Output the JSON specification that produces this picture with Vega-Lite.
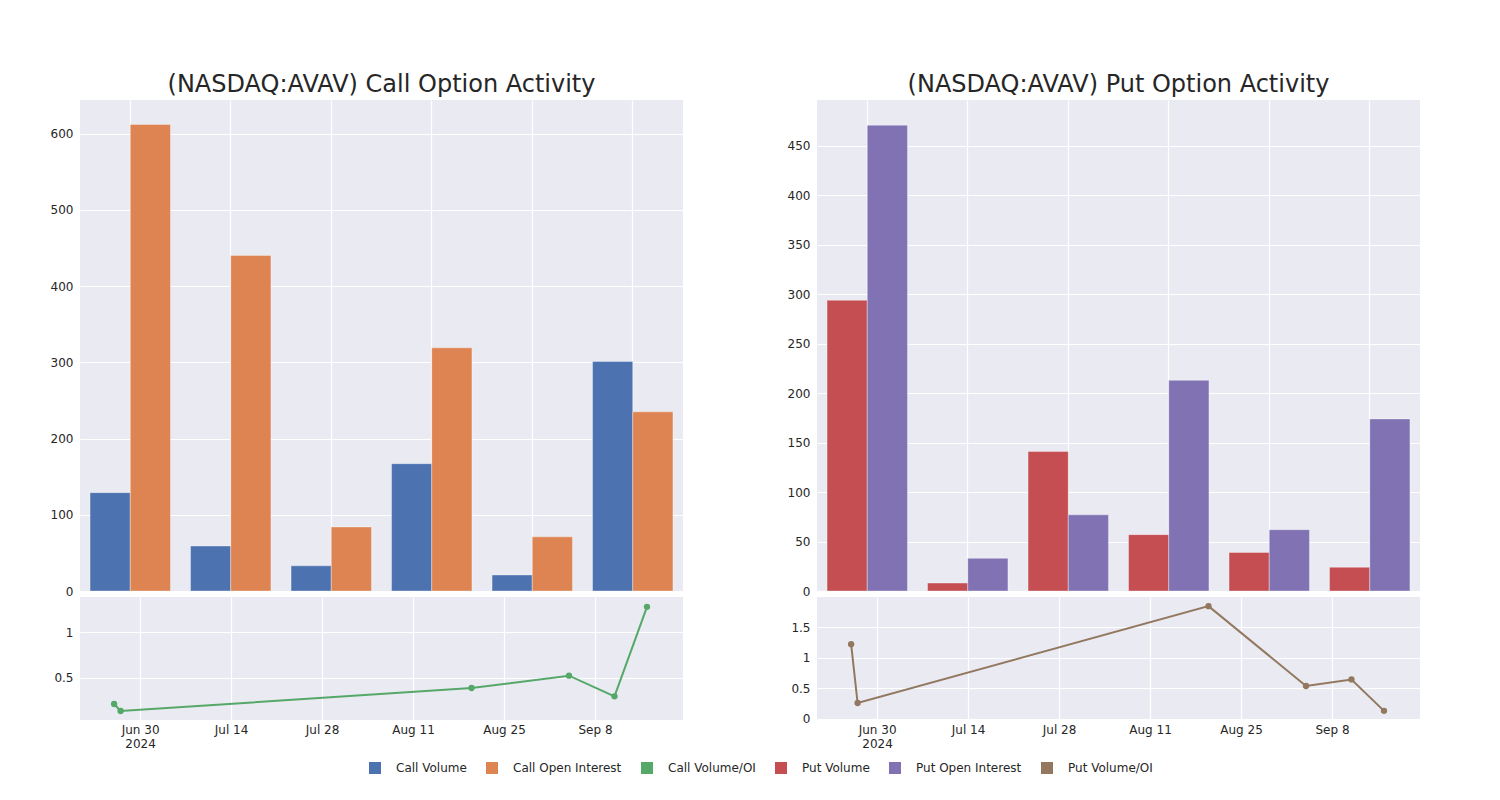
{
  "$schema": "https://vega.github.io/schema/vega-lite/v6.json",
  "background": "white",
  "padding": {"left": 50, "top": 73, "right": 5, "bottom": 5},
  "config": {
    "font": "DejaVu Sans",
    "view": {"fill": "#eaeaf2", "stroke": null},
    "axis": {"labelFont": "DejaVu Sans", "labelFontSize": 12, "labelColor": "#262626", "domain": false, "ticks": false, "gridColor": "white", "gridWidth": 1.2, "labelPadding": 7},
    "title": {"font": "DejaVu Sans", "fontSize": 24, "fontWeight": "normal", "color": "#262626", "frame": "group", "offset": 3},
    "legend": {"orient": "none", "legendX": 289, "legendY": 662, "direction": "horizontal", "title": null, "padding": 0, "symbolType": "square", "symbolSize": 144, "symbolOpacity": 1, "symbolStrokeWidth": 0, "labelFontSize": 12, "labelFont": "DejaVu Sans", "labelColor": "#262626", "labelOffset": 15, "columnPadding": 19}
  },
  "datasets": {
    "callBars": [
      {"date": "2024-06-26", "series": "Call Volume", "value": 129},
      {"date": "2024-06-26", "series": "Call Open Interest", "value": 612},
      {"date": "2024-06-27", "series": "Call Volume", "value": 59},
      {"date": "2024-06-27", "series": "Call Open Interest", "value": 440},
      {"date": "2024-08-20", "series": "Call Volume", "value": 33},
      {"date": "2024-08-20", "series": "Call Open Interest", "value": 84},
      {"date": "2024-09-04", "series": "Call Volume", "value": 167},
      {"date": "2024-09-04", "series": "Call Open Interest", "value": 319},
      {"date": "2024-09-11", "series": "Call Volume", "value": 21},
      {"date": "2024-09-11", "series": "Call Open Interest", "value": 71},
      {"date": "2024-09-16", "series": "Call Volume", "value": 301},
      {"date": "2024-09-16", "series": "Call Open Interest", "value": 235}
    ],
    "putBars": [
      {"date": "2024-06-26", "series": "Put Volume", "value": 294},
      {"date": "2024-06-26", "series": "Put Open Interest", "value": 471},
      {"date": "2024-06-27", "series": "Put Volume", "value": 8},
      {"date": "2024-06-27", "series": "Put Open Interest", "value": 33},
      {"date": "2024-08-20", "series": "Put Volume", "value": 141},
      {"date": "2024-08-20", "series": "Put Open Interest", "value": 77},
      {"date": "2024-09-04", "series": "Put Volume", "value": 57},
      {"date": "2024-09-04", "series": "Put Open Interest", "value": 213},
      {"date": "2024-09-11", "series": "Put Volume", "value": 39},
      {"date": "2024-09-11", "series": "Put Open Interest", "value": 62},
      {"date": "2024-09-16", "series": "Put Volume", "value": 24},
      {"date": "2024-09-16", "series": "Put Open Interest", "value": 174}
    ],
    "callLine": [
      {"date": "2024-06-26", "series": "Call Volume/OI", "ratio": 0.215},
      {"date": "2024-06-27", "series": "Call Volume/OI", "ratio": 0.138},
      {"date": "2024-08-20", "series": "Call Volume/OI", "ratio": 0.389},
      {"date": "2024-09-04", "series": "Call Volume/OI", "ratio": 0.524},
      {"date": "2024-09-11", "series": "Call Volume/OI", "ratio": 0.298},
      {"date": "2024-09-16", "series": "Call Volume/OI", "ratio": 1.276}
    ],
    "putLine": [
      {"date": "2024-06-26", "series": "Put Volume/OI", "ratio": 1.226},
      {"date": "2024-06-27", "series": "Put Volume/OI", "ratio": 0.262},
      {"date": "2024-08-20", "series": "Put Volume/OI", "ratio": 1.85},
      {"date": "2024-09-04", "series": "Put Volume/OI", "ratio": 0.54},
      {"date": "2024-09-11", "series": "Put Volume/OI", "ratio": 0.648},
      {"date": "2024-09-16", "series": "Put Volume/OI", "ratio": 0.133}
    ]
  },
  "spacing": 104,
  "resolve": {"scale": {"color": "shared", "xOffset": "independent"}},
  "hconcat": [
    {
      "spacing": 0,
      "resolve": {"scale": {"color": "shared", "xOffset": "independent"}},
      "vconcat": [
        {
          "title": "(NASDAQ:AVAV) Call Option Activity",
          "width": 603, "height": 491,
          "data": {"name": "callBars"},
          "mark": {"type": "bar", "stroke": "white", "strokeOpacity": 0.35, "strokeWidth": 1},
          "encoding": {
            "x": {"field": "date", "type": "ordinal", "title": null, "scale": {"paddingInner": 0.2, "paddingOuter": 0.1}, "axis": {"labels": false, "grid": true, "bandPosition": 0.5}},
            "xOffset": {"field": "series", "type": "nominal", "sort": ["Call Volume", "Call Open Interest"], "scale": {"paddingInner": 0, "paddingOuter": 0}},
            "y": {"field": "value", "type": "quantitative", "title": null, "scale": {"domain": [0, 644], "nice": false}, "axis": {"values": [0, 100, 200, 300, 400, 500, 600], "grid": true}},
            "color": {"field": "series", "type": "nominal",
              "scale": {"domain": ["Call Volume", "Call Open Interest", "Call Volume/OI", "Put Volume", "Put Open Interest", "Put Volume/OI"], "range": ["#4c72b0", "#dd8452", "#55a868", "#c44e52", "#8172b3", "#937860"]}}
          }
        },
        {
          "width": 603, "height": 123,
          "data": {"name": "callLine"},
          "mark": {"type": "line", "strokeWidth": 2, "point": {"filled": true, "size": 40}},
          "encoding": {
            "x": {"field": "date", "type": "temporal", "title": null,
              "scale": {"type": "utc", "domain": [{"year": 2024, "month": 6, "date": 20, "hours": 18, "utc": true}, {"year": 2024, "month": 9, "date": 21, "hours": 13, "utc": true}]},
              "axis": {"grid": true, "labelPadding": 4, "labelAngle": 0,
                "values": [{"year": 2024, "month": 6, "date": 30, "utc": true}, {"year": 2024, "month": 7, "date": 14, "utc": true}, {"year": 2024, "month": 7, "date": 28, "utc": true}, {"year": 2024, "month": 8, "date": 11, "utc": true}, {"year": 2024, "month": 8, "date": 25, "utc": true}, {"year": 2024, "month": 9, "date": 8, "utc": true}],
                "labelExpr": "utcFormat(datum.value, '%b %-d') == 'Jun 30' ? ['Jun 30', '2024'] : utcFormat(datum.value, '%b %-d')"}},
            "y": {"field": "ratio", "type": "quantitative", "title": null, "scale": {"domain": [0.04, 1.383], "nice": false, "zero": false}, "axis": {"values": [0.5, 1], "format": "~g", "grid": true}},
            "color": {"field": "series", "type": "nominal",
              "scale": {"domain": ["Call Volume", "Call Open Interest", "Call Volume/OI", "Put Volume", "Put Open Interest", "Put Volume/OI"], "range": ["#4c72b0", "#dd8452", "#55a868", "#c44e52", "#8172b3", "#937860"]}}
          }
        }
      ]
    },
    {
      "spacing": 0,
      "resolve": {"scale": {"color": "shared", "xOffset": "independent"}},
      "vconcat": [
        {
          "title": "(NASDAQ:AVAV) Put Option Activity",
          "width": 603, "height": 491,
          "data": {"name": "putBars"},
          "mark": {"type": "bar", "stroke": "white", "strokeOpacity": 0.35, "strokeWidth": 1},
          "encoding": {
            "x": {"field": "date", "type": "ordinal", "title": null, "scale": {"paddingInner": 0.2, "paddingOuter": 0.1}, "axis": {"labels": false, "grid": true, "bandPosition": 0.5}},
            "xOffset": {"field": "series", "type": "nominal", "sort": ["Put Volume", "Put Open Interest"], "scale": {"paddingInner": 0, "paddingOuter": 0}},
            "y": {"field": "value", "type": "quantitative", "title": null, "scale": {"domain": [0, 496.5], "nice": false}, "axis": {"values": [0, 50, 100, 150, 200, 250, 300, 350, 400, 450], "grid": true}},
            "color": {"field": "series", "type": "nominal",
              "scale": {"domain": ["Call Volume", "Call Open Interest", "Call Volume/OI", "Put Volume", "Put Open Interest", "Put Volume/OI"], "range": ["#4c72b0", "#dd8452", "#55a868", "#c44e52", "#8172b3", "#937860"]}}
          }
        },
        {
          "width": 603, "height": 123,
          "data": {"name": "putLine"},
          "mark": {"type": "line", "strokeWidth": 2, "point": {"filled": true, "size": 40}},
          "encoding": {
            "x": {"field": "date", "type": "temporal", "title": null,
              "scale": {"type": "utc", "domain": [{"year": 2024, "month": 6, "date": 20, "hours": 18, "utc": true}, {"year": 2024, "month": 9, "date": 21, "hours": 13, "utc": true}]},
              "axis": {"grid": true, "labelPadding": 4, "labelAngle": 0,
                "values": [{"year": 2024, "month": 6, "date": 30, "utc": true}, {"year": 2024, "month": 7, "date": 14, "utc": true}, {"year": 2024, "month": 7, "date": 28, "utc": true}, {"year": 2024, "month": 8, "date": 11, "utc": true}, {"year": 2024, "month": 8, "date": 25, "utc": true}, {"year": 2024, "month": 9, "date": 8, "utc": true}],
                "labelExpr": "utcFormat(datum.value, '%b %-d') == 'Jun 30' ? ['Jun 30', '2024'] : utcFormat(datum.value, '%b %-d')"}},
            "y": {"field": "ratio", "type": "quantitative", "title": null, "scale": {"domain": [-0.017, 2.0], "nice": false, "zero": false}, "axis": {"values": [0, 0.5, 1, 1.5], "format": "~g", "grid": true}},
            "color": {"field": "series", "type": "nominal",
              "scale": {"domain": ["Call Volume", "Call Open Interest", "Call Volume/OI", "Put Volume", "Put Open Interest", "Put Volume/OI"], "range": ["#4c72b0", "#dd8452", "#55a868", "#c44e52", "#8172b3", "#937860"]}}
          }
        }
      ]
    }
  ]
}
